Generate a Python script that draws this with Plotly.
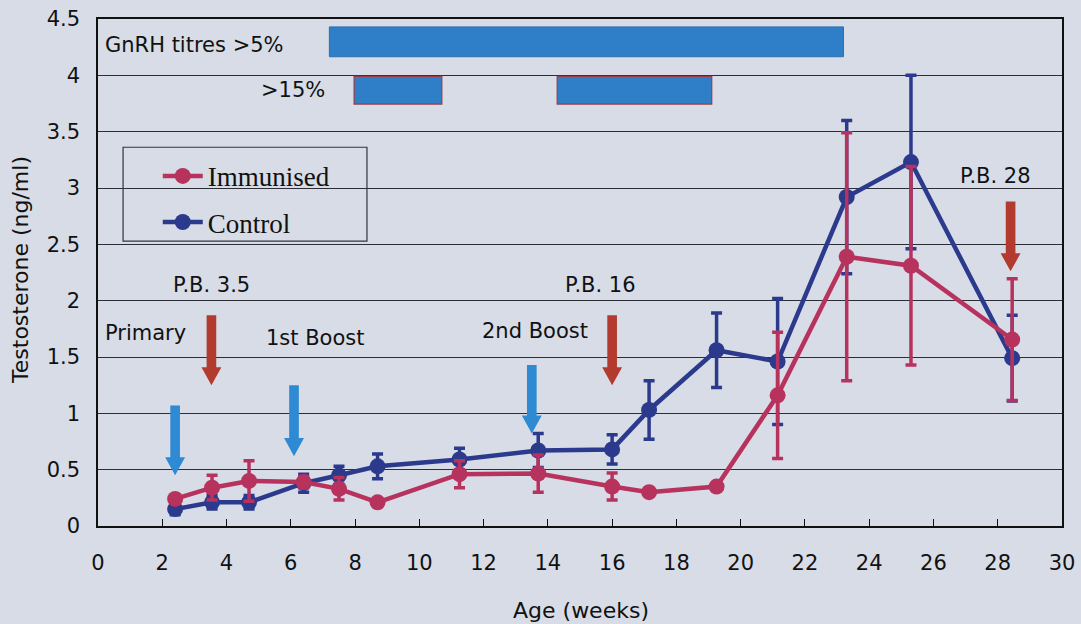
import plotly.graph_objects as go

# ---------------- data ----------------
age_weeks = [2.4, 3.55, 4.7, 6.4, 7.5, 8.7, 11.25, 13.7, 16.0, 17.15, 19.25, 21.15, 23.3, 25.3, 28.45]
immunised = [0.24, 0.34, 0.40, 0.39, 0.33, 0.21, 0.46, 0.465, 0.35, 0.30, 0.35, 1.16, 2.39, 2.31, 1.655]
immunised_err = [0.03, 0.11, 0.18, 0.05, 0.10, 0.03, 0.12, 0.165, 0.12, 0.03, 0.03, 0.56, 1.10, 0.88, 0.54]
control = [0.15, 0.21, 0.21, 0.38, 0.45, 0.53, 0.59, 0.67, 0.68, 1.03, 1.56, 1.46, 2.92, 3.23, 1.49]
control_err = [0.05, 0.06, 0.06, 0.08, 0.08, 0.11, 0.10, 0.15, 0.13, 0.26, 0.33, 0.56, 0.68, 0.77, 0.38]

# GnRH titre periods (weeks) and the band they are drawn in (ng/ml scale)
titre5_start = [7.2]
titre5_end = [23.2]
titre5_band = [4.165, 4.43]
titre15_start = [7.97, 14.29]
titre15_end = [10.7, 19.1]
titre15_band = [3.745, 3.99]

# vaccination arrows (blue) and P.B. arrows (red): x, top, tip
vacc_x = [2.4, 6.1, 13.5]
vacc_top = [1.07, 1.25, 1.43]
vacc_tip = [0.45, 0.62, 0.82]
pb_x = [3.53, 16.0, 28.4]
pb_top = [1.87, 1.87, 2.88]
pb_tip = [1.25, 1.25, 2.26]

x_ticks = list(range(0, 31, 2))
y_ticks = [0, 0.5, 1, 1.5, 2, 2.5, 3, 3.5, 4, 4.5]

# ---------------- style ----------------
BG = "#d7dce6"
RED = "#b8325e"
NAVY = "#2b3a8c"
BAR = "#2f7fc8"
ARROW_BLUE = "#2e8ad2"
ARROW_RED = "#b23a2e"
GRID = "#2d2d38"
SANS = "DejaVu Sans"
SERIF = "Liberation Serif"
INK = "#111111"

fig = go.Figure()

fig.add_trace(go.Scatter(
    x=age_weeks, y=control, name="Control", mode="lines+markers",
    line=dict(color=NAVY, width=4.5), marker=dict(color=NAVY, size=16),
    error_y=dict(type="data", array=control_err, color=NAVY, thickness=3.5, width=5.5),
    legendrank=2, legendgroup="c",
))
fig.add_trace(go.Scatter(
    x=age_weeks, y=immunised, name="Immunised", mode="lines+markers",
    line=dict(color=RED, width=4.5), marker=dict(color=RED, size=16),
    error_y=dict(type="data", array=immunised_err, color=RED, thickness=3.5, width=5.5),
    legendrank=1, legendgroup="i",
))

shapes = []
# titre bars
for s, e in zip(titre5_start, titre5_end):
    shapes.append(dict(type="rect", xref="x", yref="y", x0=s, x1=e,
                       y0=titre5_band[0], y1=titre5_band[1],
                       fillcolor=BAR, line=dict(color="#2f6fb0", width=1), layer="above"))
for s, e in zip(titre15_start, titre15_end):
    shapes.append(dict(type="rect", xref="x", yref="y", x0=s, x1=e,
                       y0=titre15_band[0], y1=titre15_band[1],
                       fillcolor=BAR, line=dict(color="#9a3a48", width=1.2), layer="above"))

# arrows as filled paths
HW, HH, HL = 0.15, 0.31, 0.16


def arrow_path(x0, top, tip):
    b = tip + HL
    return (f"M {x0-HW},{top} L {x0+HW},{top} L {x0+HW},{b} L {x0+HH},{b} "
            f"L {x0},{tip} L {x0-HH},{b} L {x0-HW},{b} Z")


for x0, t, p in zip(vacc_x, vacc_top, vacc_tip):
    shapes.append(dict(type="path", xref="x", yref="y", path=arrow_path(x0, t, p),
                       fillcolor=ARROW_BLUE, line=dict(width=0), layer="above"))
for x0, t, p in zip(pb_x, pb_top, pb_tip):
    shapes.append(dict(type="path", xref="x", yref="y", path=arrow_path(x0, t, p),
                       fillcolor=ARROW_RED, line=dict(width=0), layer="above"))

# legend frame
shapes.append(dict(type="rect", xref="paper", yref="paper",
                   x0=0.026, x1=0.279, y0=0.562, y1=0.747,
                   line=dict(color="#333344", width=1.2), fillcolor="rgba(0,0,0,0)"))

annotations = []
texts = [
    ("GnRH titres >5%", 0.15, 4.27, "left"),
    (">15%", 7.12, 3.87, "right"),
    ("Primary", 0.15, 1.71, "left"),
    ("P.B. 3.5", 3.54, 2.135, "center"),
    ("1st Boost", 6.78, 1.665, "center"),
    ("2nd Boost", 13.6, 1.73, "center"),
    ("P.B. 16", 15.63, 2.135, "center"),
    ("P.B. 28", 27.93, 3.11, "center"),
]
for t, x, y, anc in texts:
    annotations.append(dict(text=t, x=x, y=y, xref="x", yref="y", showarrow=False,
                            xanchor=anc, yanchor="middle",
                            font=dict(family=SANS, size=21, color=INK)))

# axis titles
annotations.append(dict(text="Age (weeks)", x=0.501, y=-0.166, xref="paper", yref="paper",
                        showarrow=False, xanchor="center", yanchor="middle",
                        font=dict(family=SANS, size=22, color=INK)))
annotations.append(dict(text="Testosterone (ng/ml)", x=-0.0799, y=0.505, xref="paper",
                        yref="paper", showarrow=False, xanchor="center", yanchor="middle",
                        textangle=-90, font=dict(family=SANS, size=22, color=INK)))

fig.update_layout(
    width=1081, height=624,
    margin=dict(l=98, r=19, t=19, b=98, autoexpand=False),
    paper_bgcolor=BG, plot_bgcolor=BG,
    shapes=shapes, annotations=annotations,
    showlegend=True,
    legend=dict(x=0.062, y=0.738, xanchor="left", yanchor="top",
                bgcolor="rgba(0,0,0,0)", borderwidth=0,
                traceorder="grouped", tracegroupgap=8,
                font=dict(family=SERIF, size=27, color=INK),
                itemwidth=40),
    xaxis=dict(range=[0, 30], tickvals=x_ticks, ticktext=[str(v) for v in x_ticks],
               showgrid=False, zeroline=False, showline=True, linecolor=INK,
               linewidth=1.5, mirror=True, ticks="inside", ticklen=7, tickcolor=INK,
               tickfont=dict(family=SANS, size=21, color=INK),
               ticklabelstandoff=17, automargin=False),
    yaxis=dict(range=[0, 4.5], tickvals=y_ticks, ticktext=[f"{v:g}" for v in y_ticks],
               showgrid=True, gridcolor=GRID, gridwidth=1.2, zeroline=False,
               showline=True, linecolor=INK, linewidth=1.5, mirror=True,
               ticks="", tickfont=dict(family=SANS, size=21, color=INK),
               ticklabelstandoff=12, automargin=False),
)

fig.write_html("out.html",
               config={"displayModeBar": False},
               post_script="document.body.style.margin='0';document.body.style.overflow='hidden';document.body.style.background='" + BG + "';")
